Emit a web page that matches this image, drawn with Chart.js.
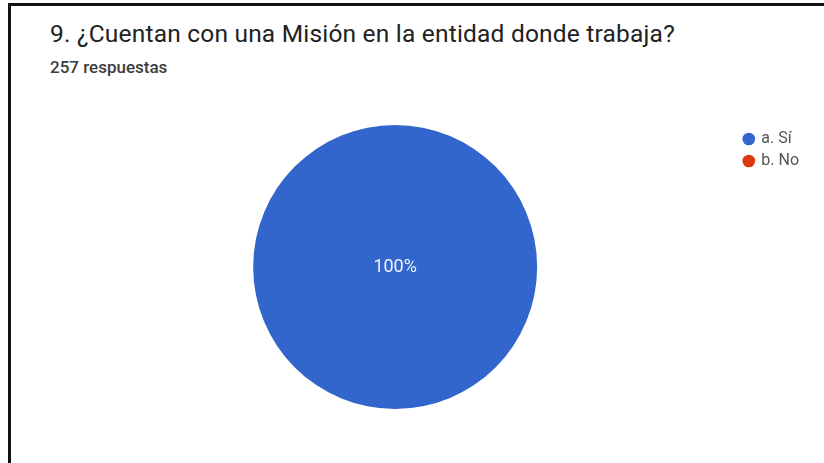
<!DOCTYPE html>
<html lang="es">
<head>
    <meta charset="UTF-8">
    <title>Misión de la entidad</title>
    <script src="https://cdn.jsdelivr.net/npm/chart.js"></script>
    <style>
        body {
            margin: 0;
            background: #fff;
            font-family: Roboto, "Noto Sans", sans-serif;
        }
        .frame {
            position: absolute;
            left: 8px;
            top: 3px;
            width: 816px;
            height: 460px;
            border-top: 3px solid #111;
            border-left: 3px solid #111;
        }
        .title {
            position: absolute;
            left: 50px;
            top: 22px;
            font-size: 24.5px;
            line-height: 1;
            letter-spacing: 0.2px;
            color: #222;
            white-space: nowrap;
        }
        .subtitle {
            position: absolute;
            left: 50px;
            top: 59px;
            font-size: 17px;
            line-height: 1;
            font-weight: 500;
            color: #3c3c3c;
        }
        .chart {
            position: absolute;
            left: 0;
            top: 0;
            width: 824px;
            height: 463px;
        }
    </style>
</head>
<body>
    <div class="frame"></div>
    <div class="title">9. ¿Cuentan con una Misión en la entidad donde trabaja?</div>
    <div class="subtitle">257 respuestas</div>
    <div class="chart">
        <canvas id="misionChart" width="824" height="463"></canvas>
    </div>
    <script>
        const labels = ['a. Sí', 'b. No'];
        const responses = [257, 0];
        const colors = ['#3366cc', '#dc3912'];

        // percentage text inside each slice
        const sliceLabels = {
            id: 'sliceLabels',
            afterDatasetsDraw(chart) {
                const ctx = chart.ctx;
                const meta = chart.getDatasetMeta(0);
                const total = responses.reduce((a, b) => a + b, 0);
                ctx.save();
                ctx.fillStyle = '#eef2fb';
                ctx.font = '18px Roboto, sans-serif';
                ctx.textAlign = 'center';
                ctx.textBaseline = 'middle';
                meta.data.forEach((arc, i) => {
                    if (!responses[i]) return;
                    const pct = Math.round(responses[i] / total * 100);
                    let pos = arc.tooltipPosition();
                    if (pct === 100) pos = { x: arc.x, y: arc.y };
                    ctx.fillText(pct + '%', pos.x, pos.y);
                });
                ctx.restore();
            }
        };

        const ctx = document.getElementById('misionChart').getContext('2d');
        new Chart(ctx, {
            type: 'pie',
            data: {
                labels: labels,
                datasets: [{
                    data: responses,
                    backgroundColor: colors,
                    borderWidth: 0
                }]
            },
            options: {
                responsive: false,
                animation: false,
                layout: {
                    padding: { left: 52, right: 15, top: 125, bottom: 54 }
                },
                plugins: {
                    legend: {
                        position: 'right',
                        align: 'start',
                        labels: {
                            usePointStyle: true,
                            pointStyle: 'circle',
                            boxWidth: 9,
                            boxHeight: 9,
                            padding: 6,
                            color: '#555',
                            font: { family: 'Roboto, sans-serif', size: 16 }
                        }
                    },
                    tooltip: { enabled: false }
                }
            },
            plugins: [sliceLabels]
        });
    </script>
</body>
</html>
